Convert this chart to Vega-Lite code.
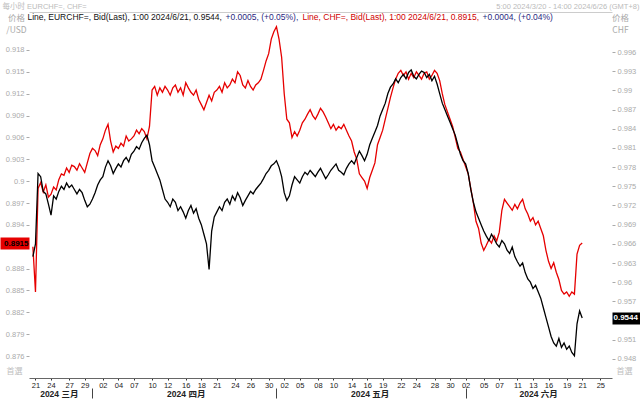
{
  "$schema": "https://vega.github.io/schema/vega-lite/v6.json",
  "width": 583,
  "height": 366,
  "autosize": "none",
  "padding": {"left": 29, "top": 12, "right": 28, "bottom": 22},
  "background": "#ffffff",
  "config": {"view": {"stroke": null}, "font": "Liberation Sans, Noto Sans CJK SC"},
  "data": {"values": [
    {"time":"03-20 10"},
    {"time":"03-20 18","usd":0.8910,"eur":0.9640},
    {"time":"03-21 02","usd":0.8848,"eur":0.9660},
    {"time":"03-21 10","usd":0.8990,"eur":0.9770},
    {"time":"03-21 18","usd":0.8998,"eur":0.9765},
    {"time":"03-22 02","usd":0.8985,"eur":0.9742},
    {"time":"03-22 10","usd":0.8995,"eur":0.9738},
    {"time":"03-22 18","usd":0.8978,"eur":0.9722},
    {"time":"03-24 22","usd":0.8982,"eur":0.9705},
    {"time":"03-25 02","usd":0.8992,"eur":0.9735},
    {"time":"03-25 10","usd":0.8988,"eur":0.9730},
    {"time":"03-25 18","usd":0.9002,"eur":0.9742},
    {"time":"03-26 02","usd":0.9010,"eur":0.9750},
    {"time":"03-26 10","usd":0.9008,"eur":0.9745},
    {"time":"03-26 18","usd":0.9018,"eur":0.9755},
    {"time":"03-27 02","usd":0.9012,"eur":0.9748},
    {"time":"03-27 10","usd":0.9022,"eur":0.9752},
    {"time":"03-27 18","usd":0.9020,"eur":0.9745},
    {"time":"03-28 02","usd":0.9015,"eur":0.9738},
    {"time":"03-28 10","usd":0.9024,"eur":0.9745},
    {"time":"03-28 18","usd":0.9018,"eur":0.9740},
    {"time":"03-29 02","usd":0.9012,"eur":0.9728},
    {"time":"03-29 10","usd":0.9025,"eur":0.9718},
    {"time":"03-29 18","usd":0.9038,"eur":0.9722},
    {"time":"03-31 22","usd":0.9045,"eur":0.9730},
    {"time":"04-01 02","usd":0.9042,"eur":0.9740},
    {"time":"04-01 10","usd":0.9035,"eur":0.9752},
    {"time":"04-01 18","usd":0.9050,"eur":0.9760},
    {"time":"04-02 02","usd":0.9058,"eur":0.9765},
    {"time":"04-02 10","usd":0.9070,"eur":0.9780},
    {"time":"04-02 18","usd":0.9078,"eur":0.9790},
    {"time":"04-03 02","usd":0.9055,"eur":0.9782},
    {"time":"04-03 10","usd":0.9040,"eur":0.9770},
    {"time":"04-03 18","usd":0.9048,"eur":0.9778},
    {"time":"04-04 02","usd":0.9045,"eur":0.9785},
    {"time":"04-04 10","usd":0.9052,"eur":0.9780},
    {"time":"04-04 18","usd":0.9048,"eur":0.9790},
    {"time":"04-05 02","usd":0.9062,"eur":0.9795},
    {"time":"04-05 10","usd":0.9055,"eur":0.9788},
    {"time":"04-05 18","usd":0.9058,"eur":0.9800},
    {"time":"04-07 22","usd":0.9062,"eur":0.9805},
    {"time":"04-08 02","usd":0.9070,"eur":0.9812},
    {"time":"04-08 10","usd":0.9065,"eur":0.9808},
    {"time":"04-08 18","usd":0.9072,"eur":0.9818},
    {"time":"04-09 02","usd":0.9068,"eur":0.9825},
    {"time":"04-09 10","usd":0.9058,"eur":0.9830},
    {"time":"04-09 18","usd":0.9075,"eur":0.9815},
    {"time":"04-10 02","usd":0.9125,"eur":0.9790},
    {"time":"04-10 10","usd":0.9130,"eur":0.9780},
    {"time":"04-10 18","usd":0.9118,"eur":0.9770},
    {"time":"04-11 02","usd":0.9128,"eur":0.9760},
    {"time":"04-11 10","usd":0.9122,"eur":0.9745},
    {"time":"04-11 18","usd":0.9130,"eur":0.9730},
    {"time":"04-12 02","usd":0.9125,"eur":0.9725},
    {"time":"04-12 10","usd":0.9118,"eur":0.9718},
    {"time":"04-12 18","usd":0.9128,"eur":0.9730},
    {"time":"04-14 22","usd":0.9132,"eur":0.9725},
    {"time":"04-15 02","usd":0.9122,"eur":0.9712},
    {"time":"04-15 10","usd":0.9128,"eur":0.9718},
    {"time":"04-15 18","usd":0.9118,"eur":0.9710},
    {"time":"04-16 02","usd":0.9135,"eur":0.9700},
    {"time":"04-16 10","usd":0.9128,"eur":0.9712},
    {"time":"04-16 18","usd":0.9122,"eur":0.9720},
    {"time":"04-17 02","usd":0.9118,"eur":0.9708},
    {"time":"04-17 10","usd":0.9125,"eur":0.9715},
    {"time":"04-17 18","usd":0.9112,"eur":0.9700},
    {"time":"04-18 02","usd":0.9105,"eur":0.9690},
    {"time":"04-18 10","usd":0.9098,"eur":0.9675},
    {"time":"04-18 18","usd":0.9108,"eur":0.9660},
    {"time":"04-19 02","usd":0.9118,"eur":0.9620},
    {"time":"04-19 10","usd":0.9110,"eur":0.9680},
    {"time":"04-19 18","usd":0.9122,"eur":0.9702},
    {"time":"04-21 22","usd":0.9125,"eur":0.9710},
    {"time":"04-22 02","usd":0.9130,"eur":0.9718},
    {"time":"04-22 10","usd":0.9122,"eur":0.9712},
    {"time":"04-22 18","usd":0.9135,"eur":0.9725},
    {"time":"04-23 02","usd":0.9128,"eur":0.9730},
    {"time":"04-23 10","usd":0.9132,"eur":0.9722},
    {"time":"04-23 18","usd":0.9140,"eur":0.9735},
    {"time":"04-24 02","usd":0.9135,"eur":0.9728},
    {"time":"04-24 10","usd":0.9150,"eur":0.9740},
    {"time":"04-24 18","usd":0.9145,"eur":0.9732},
    {"time":"04-25 02","usd":0.9132,"eur":0.9720},
    {"time":"04-25 10","usd":0.9128,"eur":0.9728},
    {"time":"04-25 18","usd":0.9138,"eur":0.9735},
    {"time":"04-26 02","usd":0.9130,"eur":0.9742},
    {"time":"04-26 10","usd":0.9125,"eur":0.9738},
    {"time":"04-26 18","usd":0.9132,"eur":0.9745},
    {"time":"04-28 22","usd":0.9135,"eur":0.9750},
    {"time":"04-29 02","usd":0.9140,"eur":0.9755},
    {"time":"04-29 10","usd":0.9152,"eur":0.9762},
    {"time":"04-29 18","usd":0.9165,"eur":0.9770},
    {"time":"04-30 02","usd":0.9175,"eur":0.9775},
    {"time":"04-30 10","usd":0.9195,"eur":0.9782},
    {"time":"04-30 18","usd":0.9205,"eur":0.9785},
    {"time":"05-01 02","usd":0.9212,"eur":0.9790},
    {"time":"05-01 10","usd":0.9195,"eur":0.9780},
    {"time":"05-01 18","usd":0.9170,"eur":0.9765},
    {"time":"05-02 02","usd":0.9120,"eur":0.9740},
    {"time":"05-02 10","usd":0.9085,"eur":0.9728},
    {"time":"05-02 18","usd":0.9080,"eur":0.9735},
    {"time":"05-03 02","usd":0.9060,"eur":0.9752},
    {"time":"05-03 10","usd":0.9068,"eur":0.9765},
    {"time":"05-03 18","usd":0.9062,"eur":0.9760},
    {"time":"05-05 22","usd":0.9070,"eur":0.9755},
    {"time":"05-06 02","usd":0.9080,"eur":0.9765},
    {"time":"05-06 10","usd":0.9085,"eur":0.9772},
    {"time":"05-06 18","usd":0.9092,"eur":0.9768},
    {"time":"05-07 02","usd":0.9098,"eur":0.9775},
    {"time":"05-07 10","usd":0.9090,"eur":0.9770},
    {"time":"05-07 18","usd":0.9085,"eur":0.9765},
    {"time":"05-08 02","usd":0.9092,"eur":0.9772},
    {"time":"05-08 10","usd":0.9100,"eur":0.9778},
    {"time":"05-08 18","usd":0.9095,"eur":0.9770},
    {"time":"05-09 02","usd":0.9088,"eur":0.9762},
    {"time":"05-09 10","usd":0.9080,"eur":0.9768},
    {"time":"05-09 18","usd":0.9072,"eur":0.9775},
    {"time":"05-10 02","usd":0.9078,"eur":0.9780},
    {"time":"05-10 10","usd":0.9070,"eur":0.9785},
    {"time":"05-10 18","usd":0.9075,"eur":0.9775},
    {"time":"05-12 22","usd":0.9072,"eur":0.9772},
    {"time":"05-13 02","usd":0.9078,"eur":0.9768},
    {"time":"05-13 10","usd":0.9070,"eur":0.9778},
    {"time":"05-13 18","usd":0.9062,"eur":0.9785},
    {"time":"05-14 02","usd":0.9055,"eur":0.9790},
    {"time":"05-14 10","usd":0.9040,"eur":0.9785},
    {"time":"05-14 18","usd":0.9030,"eur":0.9795},
    {"time":"05-15 02","usd":0.9010,"eur":0.9805},
    {"time":"05-15 10","usd":0.9005,"eur":0.9798},
    {"time":"05-15 18","usd":0.9000,"eur":0.9790},
    {"time":"05-16 02","usd":0.8990,"eur":0.9800},
    {"time":"05-16 10","usd":0.9005,"eur":0.9815},
    {"time":"05-16 18","usd":0.9015,"eur":0.9825},
    {"time":"05-17 02","usd":0.9025,"eur":0.9835},
    {"time":"05-17 10","usd":0.9050,"eur":0.9845},
    {"time":"05-17 18","usd":0.9060,"eur":0.9860},
    {"time":"05-19 22","usd":0.9070,"eur":0.9870},
    {"time":"05-20 02","usd":0.9085,"eur":0.9880},
    {"time":"05-20 10","usd":0.9100,"eur":0.9895},
    {"time":"05-20 18","usd":0.9115,"eur":0.9905},
    {"time":"05-21 02","usd":0.9128,"eur":0.9910},
    {"time":"05-21 10","usd":0.9140,"eur":0.9918},
    {"time":"05-21 18","usd":0.9148,"eur":0.9912},
    {"time":"05-22 02","usd":0.9152,"eur":0.9920},
    {"time":"05-22 10","usd":0.9145,"eur":0.9925},
    {"time":"05-22 18","usd":0.9150,"eur":0.9918},
    {"time":"05-23 02","usd":0.9140,"eur":0.9928},
    {"time":"05-23 10","usd":0.9148,"eur":0.9932},
    {"time":"05-23 18","usd":0.9142,"eur":0.9922},
    {"time":"05-24 02","usd":0.9150,"eur":0.9918},
    {"time":"05-24 10","usd":0.9145,"eur":0.9925},
    {"time":"05-24 18","usd":0.9140,"eur":0.9930},
    {"time":"05-26 22","usd":0.9148,"eur":0.9928},
    {"time":"05-27 02","usd":0.9150,"eur":0.9920},
    {"time":"05-27 10","usd":0.9140,"eur":0.9925},
    {"time":"05-27 18","usd":0.9145,"eur":0.9915},
    {"time":"05-28 02","usd":0.9152,"eur":0.9922},
    {"time":"05-28 10","usd":0.9148,"eur":0.9910},
    {"time":"05-28 18","usd":0.9138,"eur":0.9895},
    {"time":"05-29 02","usd":0.9120,"eur":0.9880},
    {"time":"05-29 10","usd":0.9105,"eur":0.9870},
    {"time":"05-29 18","usd":0.9095,"eur":0.9860},
    {"time":"05-30 02","usd":0.9085,"eur":0.9850},
    {"time":"05-30 10","usd":0.9075,"eur":0.9840},
    {"time":"05-30 18","usd":0.9060,"eur":0.9830},
    {"time":"05-31 02","usd":0.9045,"eur":0.9815},
    {"time":"05-31 10","usd":0.9040,"eur":0.9800},
    {"time":"05-31 18","usd":0.9030,"eur":0.9790},
    {"time":"06-02 22","usd":0.9020,"eur":0.9785},
    {"time":"06-03 02","usd":0.9010,"eur":0.9770},
    {"time":"06-03 10","usd":0.8990,"eur":0.9745},
    {"time":"06-03 18","usd":0.8970,"eur":0.9725},
    {"time":"06-04 02","usd":0.8945,"eur":0.9710},
    {"time":"06-04 10","usd":0.8935,"eur":0.9700},
    {"time":"06-04 18","usd":0.8915,"eur":0.9690},
    {"time":"06-05 02","usd":0.8905,"eur":0.9680},
    {"time":"06-05 10","usd":0.8912,"eur":0.9672},
    {"time":"06-05 18","usd":0.8920,"eur":0.9665},
    {"time":"06-06 02","usd":0.8915,"eur":0.9675},
    {"time":"06-06 10","usd":0.8925,"eur":0.9668},
    {"time":"06-06 18","usd":0.8918,"eur":0.9660},
    {"time":"06-07 02","usd":0.8930,"eur":0.9655},
    {"time":"06-07 10","usd":0.8960,"eur":0.9665},
    {"time":"06-07 18","usd":0.8975,"eur":0.9660},
    {"time":"06-09 22","usd":0.8970,"eur":0.9650},
    {"time":"06-10 02","usd":0.8965,"eur":0.9645},
    {"time":"06-10 10","usd":0.8960,"eur":0.9655},
    {"time":"06-10 18","usd":0.8968,"eur":0.9640},
    {"time":"06-11 02","usd":0.8962,"eur":0.9632},
    {"time":"06-11 10","usd":0.8970,"eur":0.9625},
    {"time":"06-11 18","usd":0.8975,"eur":0.9630},
    {"time":"06-12 02","usd":0.8962,"eur":0.9615},
    {"time":"06-12 10","usd":0.8955,"eur":0.9605},
    {"time":"06-12 18","usd":0.8945,"eur":0.9600},
    {"time":"06-13 02","usd":0.8950,"eur":0.9590},
    {"time":"06-13 10","usd":0.8940,"eur":0.9595},
    {"time":"06-13 18","usd":0.8945,"eur":0.9585},
    {"time":"06-14 02","usd":0.8935,"eur":0.9575},
    {"time":"06-14 10","usd":0.8925,"eur":0.9560},
    {"time":"06-14 18","usd":0.8905,"eur":0.9545},
    {"time":"06-16 22","usd":0.8890,"eur":0.9530},
    {"time":"06-17 02","usd":0.8880,"eur":0.9515},
    {"time":"06-17 10","usd":0.8888,"eur":0.9505},
    {"time":"06-17 18","usd":0.8875,"eur":0.9500},
    {"time":"06-18 02","usd":0.8865,"eur":0.9512},
    {"time":"06-18 10","usd":0.8850,"eur":0.9498},
    {"time":"06-18 18","usd":0.8845,"eur":0.9505},
    {"time":"06-19 02","usd":0.8848,"eur":0.9495},
    {"time":"06-19 10","usd":0.8842,"eur":0.9500},
    {"time":"06-19 18","usd":0.8848,"eur":0.9490},
    {"time":"06-20 02","usd":0.8845,"eur":0.9485},
    {"time":"06-20 10","usd":0.8900,"eur":0.9535},
    {"time":"06-20 18","usd":0.8912,"eur":0.9555},
    {"time":"06-21 02","usd":0.8915,"eur":0.9544},
    {"time":"06-21 10"},
    {"time":"06-21 18"},
    {"time":"06-23 22"},
    {"time":"06-24 02"},
    {"time":"06-24 10"},
    {"time":"06-24 18"},
    {"time":"06-25 02"},
    {"time":"06-25 10"},
    {"time":"06-25 18"},
    {"time":"06-26 02"},
    {"time":"06-26 10"}
  ]},
  "layer": [
    {
      "mark": {"type": "line", "strokeWidth": 1.3, "invalid": "break-paths-show-domains"},
      "encoding": {
        "x": {"field": "time", "type": "ordinal", "scale": {"type": "point", "padding": 0.5},
          "axis": {"orient": "bottom", "title": null, "labelAngle": 0, "labelOverlap": false,
            "values": ["03-21 02","03-24 22","03-27 02","03-29 02","04-02 02","04-04 02","04-07 22","04-10 02","04-12 02","04-16 02","04-18 02","04-21 22","04-24 02","04-26 02","04-30 02","05-02 02","05-05 22","05-08 02","05-10 02","05-14 02","05-16 02","05-19 22","05-22 02","05-24 02","05-28 02","05-30 02","06-02 22","06-05 02","06-07 02","06-11 02","06-13 02","06-16 22","06-19 02","06-21 02","06-25 02"],
            "labelExpr": "slice(datum.value, 3, 5)",
            "domain": true, "domainColor": "#666666", "domainWidth": 1,
            "ticks": true, "tickSize": 2, "tickColor": "#333333",
            "labelPadding": 1, "labelFontSize": 7.5, "labelColor": "#222222", "labelFont": "Liberation Sans"}},
        "y": {"field": "usd", "type": "quantitative",
          "scale": {"domain": [0.872982, 0.923215], "zero": false, "nice": false},
          "axis": {"orient": "left", "values": [0.876,0.879,0.882,0.885,0.888,0.894,0.897,0.9,0.903,0.906,0.909,0.912,0.915,0.918],
            "format": ".3~f", "domain": false, "grid": false, "tickSize": 3, "tickColor": "#aaaaaa",
            "labelPadding": 2, "labelColor": "#aaaaaa", "labelFontSize": 7.5, "labelFont": "Liberation Sans",
            "title": ["价格", "/USD"], "titleAngle": 0, "titleX": -13, "titleY": 1, "titleAlign": "center",
            "titleBaseline": "top", "titleFontSize": 8.5, "titleFontWeight": "normal", "titleColor": "#aaaaaa",
            "titleLineHeight": 12, "titleFont": "Noto Sans CJK SC"}},
        "color": {"datum": "c1", "type": "nominal",
          "scale": {"domain": ["e1","e2","c1","c2"], "range": ["#000000","#2a2a80","#e60000","#2a2a80"]},
          "legend": {"orient": "none", "legendX": -2, "legendY": 1, "direction": "horizontal", "columns": 4,
            "gridAlign": "none", "columnPadding": 3, "title": null, "padding": 0, "symbolSize": 0, "symbolOpacity": 0, "symbolStrokeWidth": 0,
            "labelOffset": -8, "labelLimit": 400, "labelFontSize": 8.5, "labelFont": "Liberation Sans",
            "labelExpr": "datum.value == 'e1' ? 'Line, EURCHF=, Bid(Last), 1:00 2024/6/21, 0.9544,' : datum.value == 'e2' ? '+0.0005, (+0.05%),' : datum.value == 'c1' ? 'Line, CHF=, Bid(Last), 1:00 2024/6/21, 0.8915,' : '+0.0004, (+0.04%)'",
            "labelColor": {"expr": "datum.value == 'e1' ? '#111111' : datum.value == 'c1' ? '#d00000' : '#2a2a80'"}}}
      }
    },
    {
      "mark": {"type": "line", "opacity": 0, "invalid": "break-paths-show-domains"},
      "encoding": {
        "x": {"field": "time", "type": "ordinal",
          "axis": {"orient": "bottom", "title": null, "offset": 10, "domain": false, "labelAngle": 0, "labelOverlap": false,
            "values": ["03-25 18","03-31 22","04-16 02","05-01 02","05-16 10","06-02 22","06-13 18"],
            "labelExpr": "datum.value == '03-25 18' ? '2024 三月' : datum.value == '04-16 02' ? '2024 四月' : datum.value == '05-16 10' ? '2024 五月' : datum.value == '06-13 18' ? '2024 六月' : ''",
            "ticks": true, "tickSize": 10, "tickColor": "#444444", "tickWidth": 1,
            "tickOpacity": {"condition": {"test": "indexof(['03-31 22','05-01 02','06-02 22'], datum.value) >= 0", "value": 1}, "value": 0},
            "labelPadding": -9, "labelFontSize": 8.5, "labelFontWeight": "bold", "labelColor": "#222222",
            "labelFont": "Liberation Sans, Noto Sans CJK SC"}},
        "y": {"field": "usd", "type": "quantitative",
          "scale": {"domain": [0.872982, 0.923215], "zero": false, "nice": false},
          "axis": {"orient": "left", "values": [0.8915], "format": ".4f", "domain": false, "grid": false,
            "tickSize": 29, "tickWidth": 12, "tickColor": "#e60000", "labelPadding": -28,
            "labelColor": "#000000", "labelFontWeight": "bold", "labelFontSize": 8, "labelFont": "Liberation Sans",
            "title": "首選", "titleAngle": 0, "titleX": -15, "titleY": 359, "titleAlign": "center", "titleBaseline": "middle",
            "titleFontSize": 8, "titleFontWeight": "normal", "titleColor": "#c0c0c0", "titleFont": "Noto Sans CJK SC",
            "zindex": 1}}
      }
    },
    {
      "mark": {"type": "line", "strokeWidth": 1.3, "invalid": "break-paths-show-domains"},
      "encoding": {
        "x": {"field": "time", "type": "ordinal",
          "axis": {"orient": "top", "labels": false, "ticks": false, "domain": true, "domainColor": "#cccccc",
            "title": "每小时 EURCHF=, CHF=", "titleX": -27, "titleY": -6, "titleAlign": "left", "titleBaseline": "middle",
            "titleFontSize": 7.5, "titleFontWeight": "normal", "titleColor": "#bbbbbb", "titleFont": "Liberation Sans, Noto Sans CJK SC"}},
        "y": {"field": "eur", "type": "quantitative",
          "scale": {"domain": [0.945015, 1.002256], "zero": false, "nice": false},
          "axis": {"orient": "right", "values": [0.948,0.951,0.957,0.96,0.963,0.966,0.969,0.972,0.975,0.978,0.981,0.984,0.987,0.99,0.993,0.996],
            "format": ".3~f", "domain": false, "grid": false, "tickSize": 3, "tickColor": "#aaaaaa",
            "labelPadding": 2, "labelColor": "#aaaaaa", "labelFontSize": 7.5, "labelFont": "Liberation Sans",
            "title": ["价格", "CHF"], "titleAngle": 0, "titleX": 8, "titleY": 1, "titleAlign": "center",
            "titleBaseline": "top", "titleFontSize": 8.5, "titleFontWeight": "normal", "titleColor": "#aaaaaa",
            "titleLineHeight": 12, "titleFont": "Noto Sans CJK SC"}},
        "color": {"datum": "e1", "type": "nominal"}
      }
    },
    {
      "mark": {"type": "line", "opacity": 0, "invalid": "break-paths-show-domains"},
      "encoding": {
        "x": {"field": "time", "type": "ordinal",
          "axis": {"orient": "top", "labels": false, "ticks": false, "domain": false,
            "title": "5:00 2024/3/20 - 14:00 2024/6/26 (GMT+8)", "titleX": 610, "titleY": -6, "titleAlign": "right", "titleBaseline": "middle",
            "titleFontSize": 7.5, "titleFontWeight": "normal", "titleColor": "#bbbbbb", "titleFont": "Liberation Sans"}},
        "y": {"field": "eur", "type": "quantitative",
          "scale": {"domain": [0.945015, 1.002256], "zero": false, "nice": false},
          "axis": {"orient": "right", "values": [0.9544], "format": ".4f", "domain": false, "grid": false,
            "tickSize": 28, "tickWidth": 12, "tickColor": "#000000", "labelPadding": -27,
            "labelColor": "#ffffff", "labelFontWeight": "bold", "labelFontSize": 8, "labelFont": "Liberation Sans",
            "title": "首選", "titleAngle": 0, "titleX": 12, "titleY": 359, "titleAlign": "center", "titleBaseline": "middle",
            "titleFontSize": 8, "titleFontWeight": "normal", "titleColor": "#c0c0c0", "titleFont": "Noto Sans CJK SC",
            "zindex": 1}}
      }
    }
  ],
  "resolve": {"scale": {"y": "independent"}, "axis": {"x": "independent", "y": "independent"}}
}
